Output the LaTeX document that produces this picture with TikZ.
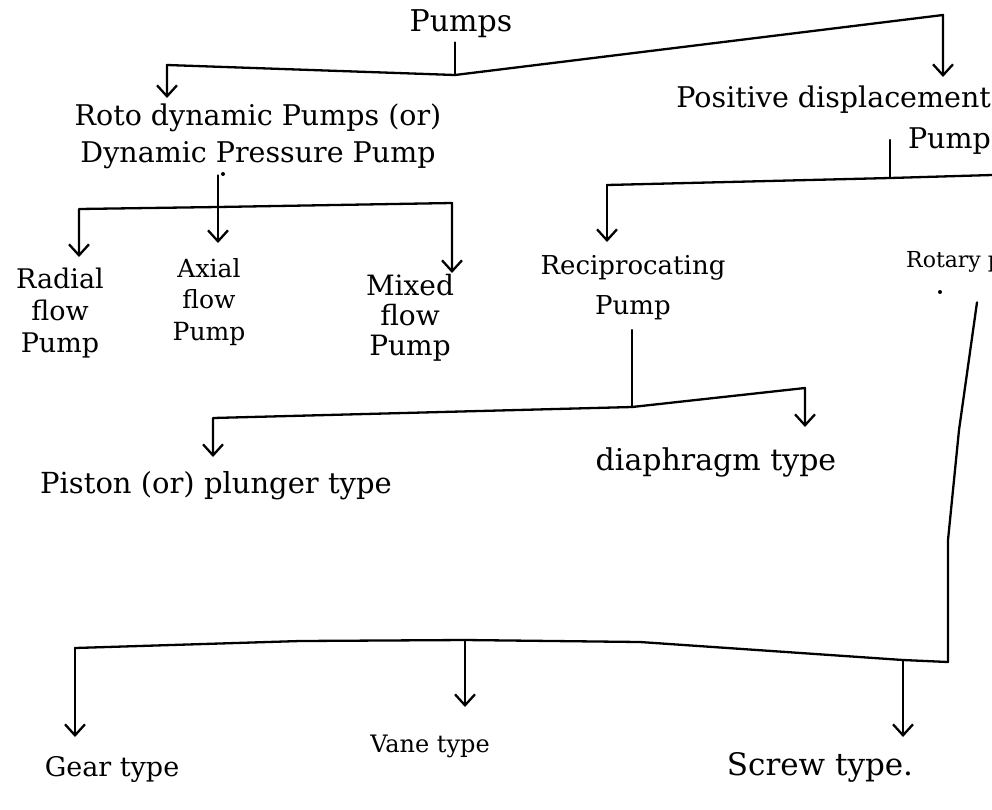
\documentclass[tikz,border=0pt]{standalone}
\usepackage{fontspec}
\setmainfont{DejaVu Serif}
\usetikzlibrary{arrows.meta}
\newcommand{\hfs}[2]{\fontsize{#1}{#2}\selectfont}
\begin{document}
\begin{tikzpicture}[x=1pt,y=-1pt,
  line/.style={line width=2.3pt, line cap=round, line join=round},
  arr/.style={line, -{Straight Barb[length=11pt,width=20pt,line width=2.3pt]}},
  lbl/.style={inner sep=0pt, align=center, anchor=north, font=\hfs{26}{31}},
]
\fill[white] (0,0) rectangle (992,809);
\useasboundingbox (0,0) rectangle (992,809);

% ---- text nodes ----
\node[lbl, font=\hfs{30}{36}] (pumps) at (461,9) {Pumps};
\node[lbl, font=\hfs{28.5}{37}] (roto) at (258,104) {Roto dynamic Pumps (or)\\Dynamic Pressure Pump};
\node[lbl, align=right, anchor=north east, font=\hfs{28.5}{41}] (pos) at (991,86) {Positive displacement\\Pump};
\node[lbl, font=\hfs{27}{32}] (radial) at (60,268) {Radial\\flow\\Pump};
\node[lbl, font=\hfs{25}{31.5}] (axial) at (209,258) {Axial\\flow\\Pump};
\node[lbl, font=\hfs{28}{30}] (mixed) at (410,274) {Mixed\\flow\\Pump};
\node[lbl, font=\hfs{26}{40}] (recip) at (633,255) {Reciprocating\\Pump};
\begin{scope}
\clip (0,0) rectangle (992,809);
\node[lbl, anchor=north west, font=\hfs{22}{26}] (rotary) at (906,251) {Rotary pump};
\end{scope}
\node[lbl, font=\hfs{29}{34}] (piston) at (216,471) {Piston (or) plunger type};
\node[lbl, font=\hfs{30}{34}] (diaph) at (716,447) {diaphragm type};
\node[lbl, font=\hfs{27}{32}] (gear) at (112,756) {Gear type};
\node[lbl, font=\hfs{24}{30}] (vane) at (430,735) {Vane type};
\node[lbl, font=\hfs{31}{36}] (screw) at (820,752) {Screw type.};

% ---- junction coordinates ----
\coordinate (jtop) at (455,75);
\coordinate (ctl) at (167,65);
\coordinate (ctr) at (943,15);
\coordinate (jpos) at (890,178);
\coordinate (crec) at (607,185);
\coordinate (rend) at (992,175);
\coordinate (jrec) at (632,407);
\coordinate (cpis) at (213,418);
\coordinate (cdia) at (805,388);
\coordinate (jrot) at (218,207);
\coordinate (crad) at (79,209);
\coordinate (cmix) at (452,203);
\coordinate (rtop) at (977,307);
\coordinate (rbend) at (959,430);
\coordinate (rmid) at (948,540);
\coordinate (cbr) at (948,662);
\coordinate (cscr) at (903,660);
\coordinate (bmid) at (640,642);
\coordinate (jvane) at (465,640);
\coordinate (bleft) at (300,641);
\coordinate (cgear) at (75,648);

% ---- connectors ----
\draw[line] (pumps.south -| jtop) ++(0,5) -- (jtop);
\draw[arr, shorten >=6pt] (jtop) -- (ctl) -- (ctl |- roto.north);
\draw[arr, shorten >=9pt] (jtop) -- (ctr) -- (ctr |- pos.north);

\draw[line] (jpos) ++(0,-38) -- (jpos);
\draw[line] (rend) -- (jpos) -- (crec);
\draw[arr, shorten >=13pt] (crec) -- (crec |- recip.north);

\draw[line] (recip.south -| jrec) ++(0,10) -- (jrec);
\draw[arr, shorten >=14pt] (jrec) -- (cpis) -- (cpis |- piston.north);
\draw[arr, shorten >=20pt] (jrec) -- (cdia) -- (cdia |- diaph.north);

\fill (223,174) circle (2pt);
\draw[arr, shorten >=15pt] (roto.south -| jrot) ++(0,6) -- (jrot |- axial.north);
\draw[arr, shorten >=11pt] (jrot) -- (crad) -- (crad |- radial.north);
\draw[arr, shorten >=1pt] (jrot) -- (cmix) -- (cmix |- mixed.north);

\fill (940,292) circle (2pt);
\draw[line] (rotary.south -| rtop) ++(0,30) -- (rbend) -- (rmid) -- (cbr) -- (cscr) -- (bmid) -- (jvane) -- (bleft) -- (cgear);
\draw[arr, shorten >=19pt] (cgear) -- (cgear |- gear.north);
\draw[arr, shorten >=28pt] (jvane) -- (jvane |- vane.north);
\draw[arr, shorten >=15pt] (cscr) -- (cscr |- screw.north);
\end{tikzpicture}
\end{document}
